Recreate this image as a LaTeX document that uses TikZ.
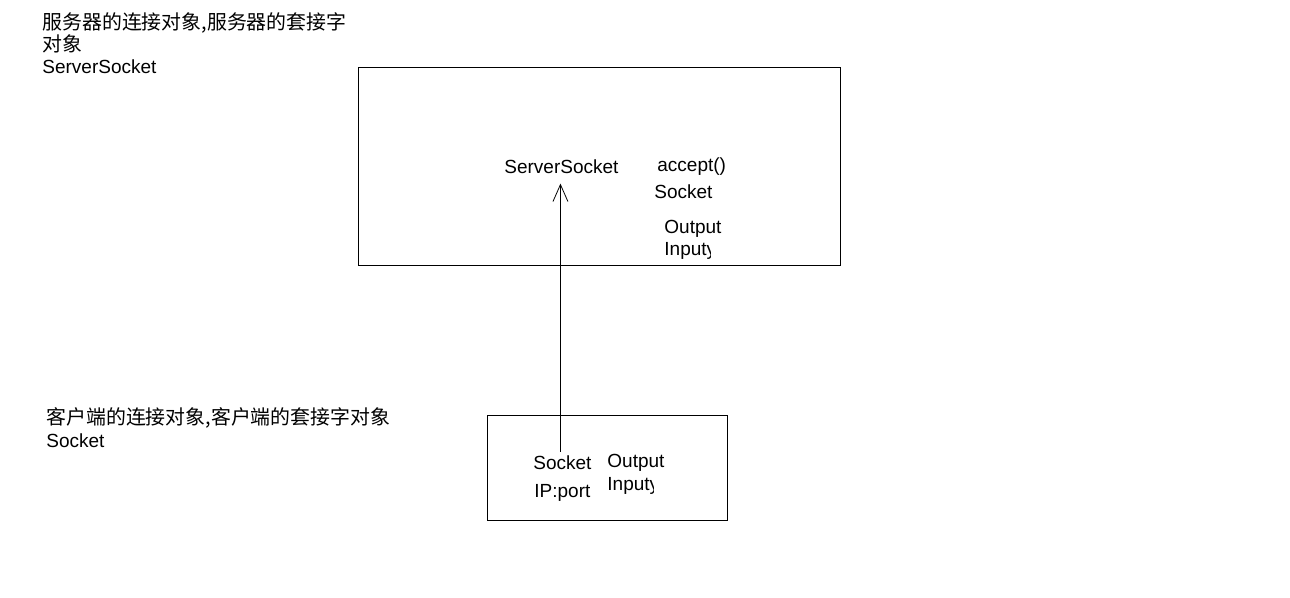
\documentclass[tikz,border=0pt]{standalone}
\usepackage{fontspec}
\setmainfont{Liberation Sans}
\newfontfamily\cjk{Noto Sans CJK SC}
\usetikzlibrary{arrows.meta}

\begin{document}
\begin{tikzpicture}[x=1pt, y=-1pt, line width=0.8pt]
\tikzstyle{every node} = [anchor=base west, inner sep=0pt, font=\fontsize{19}{22}\selectfont]
\tikzstyle{box} = [draw, rectangle, anchor=center]
\tikzstyle{note} = [font=\cjk\fontsize{19.9}{22}\selectfont]
\useasboundingbox (0,0) rectangle (1290,597);
% server side
\node[note] (snote1) at (42,29) {服务器的连接对象,服务器的套接字};
\node[note] (snote2) at (42,51) {对象};
\node (sname) at (42,73) {ServerSocket};
\node[box, minimum width=482pt, minimum height=198pt] (server) at (599,166) {};
\node (ssock) at (504,173) {ServerSocket};
\node (accept) at (657,171) {accept()};
\node (bsock) at (654,198) {Socket};
\node (bout) at (664,233) {Output};
\begin{scope}
\clip (660,238) rectangle (710,264);
\node (bin) at (664,255) {Inputy};
\end{scope}
% client side
\node[note] (cnote1) at (46,424) {客户端的连接对象,客户端的套接字对象};
\node (cname) at (46,447) {Socket};
\node[box, minimum width=240pt, minimum height=105pt] (client) at (607,467.5) {};
\node (csock) at (533,469) {Socket};
\node (cip) at (534,497) {IP:port};
\node (cout) at (607,467) {Output};
\begin{scope}
\clip (603,472) rectangle (653,499);
\node (cin) at (607,490) {Inputy};
\end{scope}
\draw[-{Straight Barb[length=17pt, width=15pt]}, shorten <=3pt, shorten >=10pt]
	([xshift=-2pt]csock.north) -- ([xshift=-2pt]csock.north |- ssock.south);
\end{tikzpicture}
\end{document}
